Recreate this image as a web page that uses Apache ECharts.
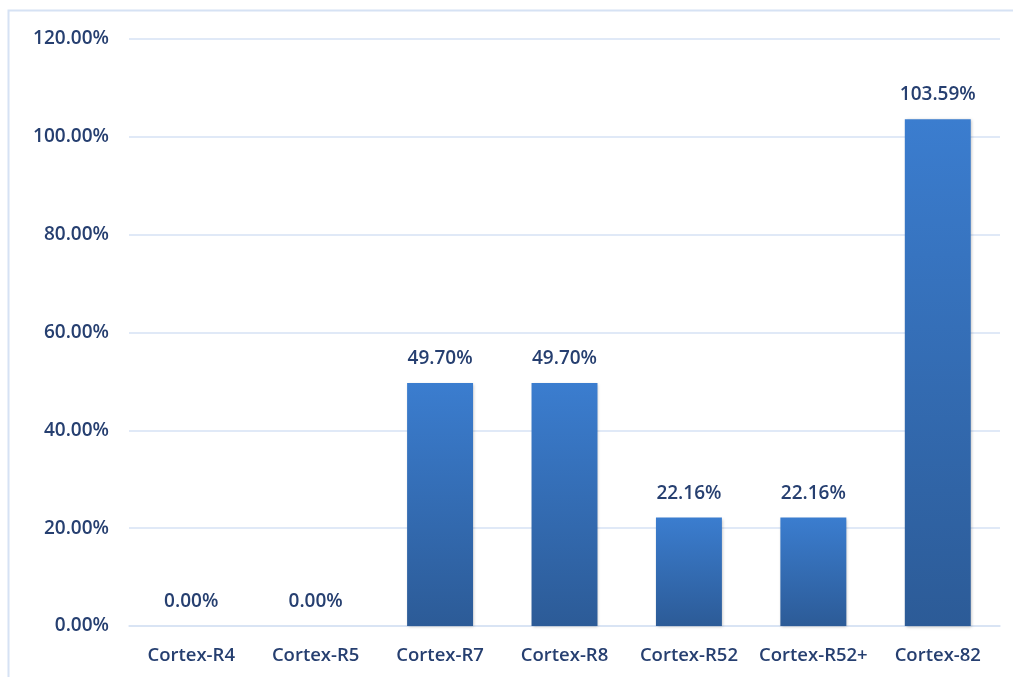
<!DOCTYPE html>
<html>
<head>
<meta charset="utf-8">
<script src="https://cdn.jsdelivr.net/npm/echarts@6/dist/echarts.min.js"></script>
<style>html,body{margin:0;padding:0;background:#fff}#c{width:1013px;height:677px}</style>
</head>
<body>
<div id="c"></div>
<script>
const categories = ['Cortex-R4','Cortex-R5','Cortex-R7','Cortex-R8','Cortex-R52','Cortex-R52+','Cortex-82'];
const values = [0.00, 0.00, 49.70, 49.70, 22.16, 22.16, 103.59];
const yTicks = [0, 20, 40, 60, 80, 100, 120];

const txt = '#263f70';
const font = {color:txt, fontFamily:'Open Sans', fontWeight:600, fontSize:19};
const chart = echarts.init(document.getElementById('c'));
chart.setOption({
  animation: false,
  graphic: [{type:'rect', shape:{x:8.5,y:10.5,width:1100,height:800}, style:{fill:'none', stroke:'#d6e2f4', lineWidth:2}, z:-1}],
  grid: {left:129, right:13, top:39, bottom:51},
  xAxis: {
    type:'category', data:categories,
    axisLine:{lineStyle:{color:'#d6e2f4', width:1.5}},
    axisTick:{show:false},
    axisLabel:Object.assign({margin:20, interval:0, hideOverlap:false}, font, {fontSize:18.5})
  },
  yAxis: {
    type:'value', min:yTicks[0], max:yTicks[yTicks.length-1], interval:20,
    axisLine:{show:false}, axisTick:{show:false},
    splitLine:{lineStyle:{color:'#d6e2f4', width:1.5}},
    axisLabel:Object.assign({margin:20, formatter: v => v.toFixed(2) + '%'}, font)
  },
  series: [{
    type:'bar', data:values, barWidth:'53%',
    itemStyle:{
      color: new echarts.graphic.LinearGradient(0,0,0,1,[{offset:0,color:'#3b7dcf'},{offset:1,color:'#2c5b97'}]),
      shadowColor:'rgba(0,0,0,0.25)', shadowBlur:3, shadowOffsetX:1, shadowOffsetY:1
    },
    label:Object.assign({show:true, position:'top', distance:15, formatter: p => p.value.toFixed(2) + '%'}, font)
  }]
});
</script>
</body>
</html>
